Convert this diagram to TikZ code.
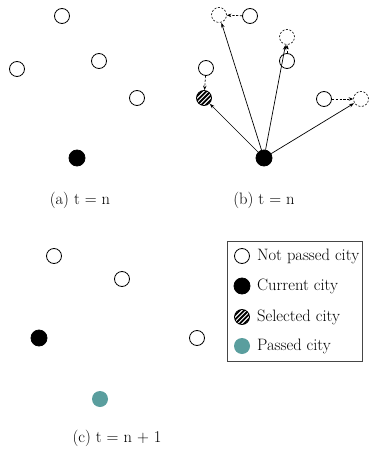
\documentclass[tikz,border=0pt]{standalone}
\usetikzlibrary{arrows.meta,calc}
\definecolor{teal1}{RGB}{90,158,158}
\definecolor{boxgray}{RGB}{70,70,70}
\begin{document}
\begin{tikzpicture}[x=1pt,y=-1pt,
  city/.style={circle,draw=black,line width=0.8pt,minimum size=15pt,inner sep=0pt,fill=white},
  cur/.style={circle,fill=black,draw=black,line width=0.8pt,minimum size=16pt,inner sep=0pt},
  passed/.style={circle,fill=teal1,minimum size=16pt,inner sep=0pt},
  ghost/.style={circle,draw=black,line width=0.6pt,dash pattern=on 2pt off 1.6pt,minimum size=15pt,inner sep=0pt},
  hatch/.style={circle,draw=black,line width=0.8pt,minimum size=15pt,inner sep=0pt,
    path picture={\foreach \i in {-4,...,4}{\draw[line width=1.8pt] ($(path picture bounding box.center)+(\i*4.4pt-10pt,-10pt)$) -- ++(20pt,20pt);}}},
  conn/.style={-{Stealth[length=5pt,width=3.5pt]},line width=0.7pt,shorten >=0.3pt},
  move/.style={-{Stealth[length=4.5pt,width=3.5pt]},line width=0.7pt,dash pattern=on 2.2pt off 1.6pt},
  lab/.style={font=\fontsize{16.5}{19}\selectfont,inner sep=0pt},
  leg/.style={font=\fontsize{16.5}{19}\selectfont,anchor=west,inner sep=0pt}]
\useasboundingbox (0,0) rectangle (368,449);
% (a)
\node[city] (a1) at (62,16) {};
\node[city] (a2) at (17,69) {};
\node[city] (a3) at (99,61) {};
\node[city] (a4) at (137,98) {};
\node[cur] (a0) at (77,158) {};
\node[lab] (la) at (80,200) {(a) t = n};
% (b)
\node[ghost] (d1) at (219,15) {};
\node[city] (b1) at (250,16) {};
\node[ghost] (d2) at (287,37) {};
\node[city] (b3) at (287,61) {};
\node[city] (b2) at (206,68) {};
\node[hatch] (h) at (204,98) {};
\node[city] (b4) at (324,99) {};
\node[ghost] (d3) at (361,99) {};
\node[cur] (b0) at (264,158) {};
\draw[conn] (b0) -- (d1);
\draw[conn] (b0) -- (d2);
\draw[conn] (b0) -- (h);
\draw[conn] (b0) -- (d3);
\draw[move] (b1) -- (d1);
\draw[move] (b3) -- (d2);
\draw[move] (b2) -- (h);
\draw[move] (b4) -- (d3);
\node[lab] (lb) at (264,200) {(b) t = n};
% (c)
\node[city] (c1) at (54,256) {};
\node[city] (c2) at (122,279) {};
\node[cur] (c0) at (39,338) {};
\node[city] (c3) at (197,338) {};
\node[passed] (c4) at (100,399) {};
\node[lab] (lc) at (117,438) {(c) t = n + 1};
% legend
\node[draw=boxgray,line width=0.8pt,minimum width=135pt,minimum height=120pt,anchor=north west,inner sep=0pt] (legbox) at (227,241) {};
\node[city] (l1) at (242,256) {};
\node[leg] (t1) at (257,256) {Not passed city};
\node[cur] (l2) at (242,286) {};
\node[leg] (t2) at (257,286) {Current city};
\node[hatch] (l3) at (242,317) {};
\node[leg] (t3) at (257,317) {Selected city};
\node[passed] (l4) at (242,346) {};
\node[leg] (t4) at (257,346) {Passed city};
\end{tikzpicture}
\end{document}
